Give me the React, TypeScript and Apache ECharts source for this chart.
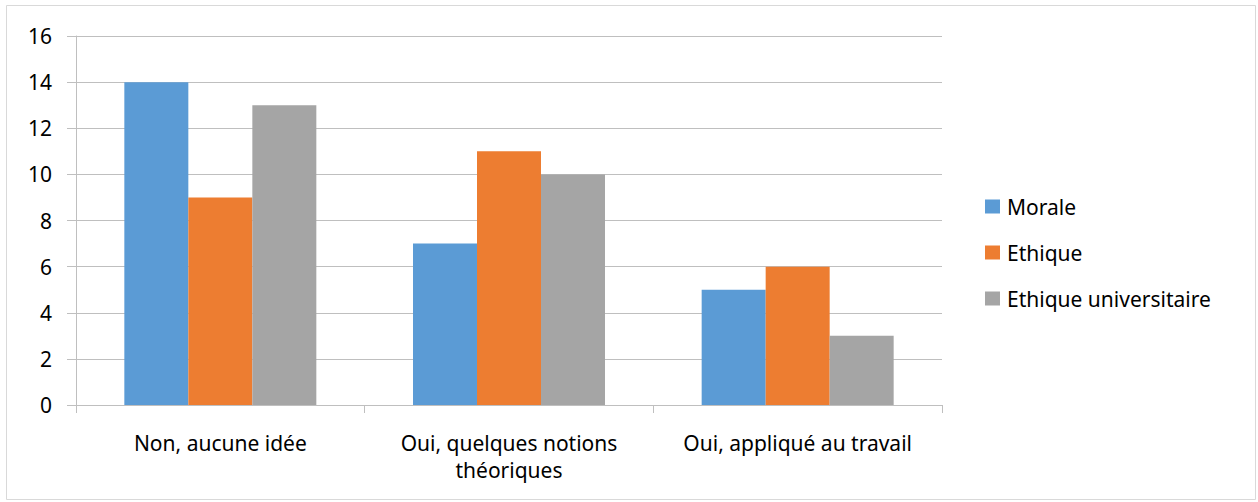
import React, { useEffect, useRef } from "react";
import * as echarts from "echarts";

const categories = ["Non, aucune idée", "Oui, quelques notions\nthéoriques", "Oui, appliqué au travail"];
const seriesNames = ["Morale", "Ethique", "Ethique universitaire"];
const morale = [14, 7, 5];
const ethique = [9, 11, 6];
const ethiqueUniv = [13, 10, 3];
const colors = ["#5B9BD5", "#ED7D31", "#A5A5A5"];

const FONT = "Noto Sans";
const FS = 21;

export default function App() {
  const ref = useRef<HTMLDivElement>(null);
  useEffect(() => {
    if (!ref.current) return;
    const chart = echarts.init(ref.current, undefined, { renderer: "svg" });
    const values = [morale, ethique, ethiqueUniv];
    chart.setOption({
      animation: false,
      color: colors,
      textStyle: { fontFamily: FONT },
      graphic: [
        {
          type: "rect",
          shape: { x: 6.5, y: 5.5, width: 1249, height: 494 },
          style: { fill: "none", stroke: "#D9D9D9", lineWidth: 1 },
          silent: true,
        },
      ],
      grid: { left: 76, right: 316, top: 36, bottom: 97, containLabel: false },
      legend: {
        orient: "vertical",
        left: 980,
        top: 191,
        itemWidth: 15,
        itemHeight: 14,
        itemGap: 25,
        icon: "rect",
        data: seriesNames,
        textStyle: { fontFamily: FONT, fontSize: FS, lineHeight: 21, color: "#000", padding: [0, 0, 0, 2] },
      },
      xAxis: {
        type: "category",
        data: categories,
        axisLine: { show: true, lineStyle: { color: "#BFBFBF", width: 1 } },
        axisTick: { show: true, length: 8, lineStyle: { color: "#BFBFBF" } },
        axisLabel: {
          interval: 0,
          hideOverlap: false,
          fontFamily: FONT,
          fontSize: FS,
          color: "#000",
          margin: 24,
          lineHeight: 27,
        },
      },
      yAxis: {
        type: "value",
        min: 0,
        max: 16,
        interval: 2,
        axisLine: { show: true, lineStyle: { color: "#BFBFBF", width: 1 } },
        axisTick: { show: true, length: 9, lineStyle: { color: "#BFBFBF" } },
        splitLine: { show: true, lineStyle: { color: "#BFBFBF", width: 1 } },
        axisLabel: { fontFamily: FONT, fontSize: FS, color: "#000", margin: 24 },
      },
      series: seriesNames.map((name, i) => ({
        name,
        type: "bar",
        data: values[i],
        barWidth: 64,
        barGap: "0%",
        itemStyle: { color: colors[i] },
      })),
    });
    return () => chart.dispose();
  }, []);
  return (
    <div
      ref={ref}
      style={{ position: "fixed", left: 0, top: 0, width: 1258, height: 502, background: "#fff" }}
    />
  );
}
